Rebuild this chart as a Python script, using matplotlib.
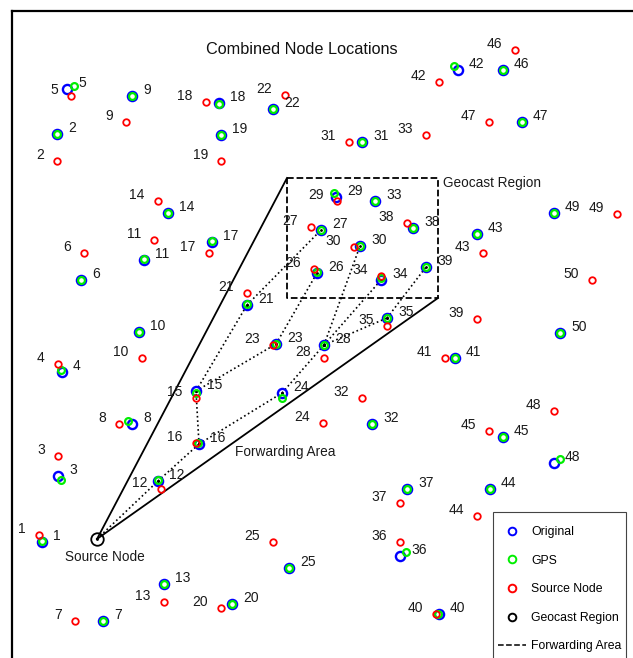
import matplotlib
matplotlib.use("Agg")
import matplotlib.pyplot as plt
from matplotlib.lines import Line2D
from matplotlib.patches import Rectangle

plt.rcParams['font.family'] = ['Liberation Sans', 'DejaVu Sans']

# node positions (field units, y grows downward on the plot)
node_ids = list(range(1, 51))
orig_x = [42, 57, 58, 62, 67, 81, 103, 132, 132, 139,
          144, 158, 164, 168, 196, 199, 212, 219, 221, 232,
          247, 273, 276, 282, 289, 317, 321, 324, 336, 360,
          362, 372, 375, 381, 387, 400, 407, 413, 426, 439,
          455, 458, 477, 490, 503, 503, 522, 554, 554, 560]
orig_y = [542, 134, 476, 372, 89, 280, 621, 424, 96, 332,
          260, 481, 584, 213, 391, 444, 242, 103, 135, 604,
          305, 109, 344, 393, 568, 273, 230, 345, 197, 246,
          142, 424, 201, 280, 318, 556, 489, 228, 267, 614,
          358, 70, 234, 489, 437, 70, 122, 463, 213, 333]
gps_x = [42, 57, 61, 61, 74, 81, 103, 128, 132, 139,
         144, 158, 164, 168, 196, 198, 212, 219, 221, 232,
         247, 273, 276, 282, 289, 317, 321, 324, 334, 360,
         362, 372, 375, 381, 387, 406, 407, 413, 426, 438,
         455, 454, 477, 490, 503, 503, 522, 560, 554, 560]
gps_y = [541, 134, 480, 370, 86, 280, 621, 421, 96, 332,
         259, 480, 584, 213, 393, 443, 241, 104, 135, 604,
         304, 109, 344, 398, 568, 272, 230, 345, 193, 246,
         142, 424, 201, 278, 318, 552, 489, 228, 267, 614,
         358, 66, 234, 489, 437, 70, 122, 459, 213, 333]
src_x = [39, 57, 58, 58, 71, 84, 75, 119, 126, 142,
         154, 161, 164, 158, 196, 196, 209, 206, 221, 221,
         247, 285, 273, 323, 273, 314, 311, 324, 337, 354,
         349, 362, 426, 381, 387, 400, 400, 407, 477, 436,
         445, 439, 483, 477, 489, 515, 489, 554, 617, 592]
src_y = [535, 161, 456, 364, 96, 253, 621, 424, 122, 358,
         240, 489, 602, 201, 398, 443, 253, 102, 161, 608,
         293, 95, 345, 423, 542, 269, 227, 358, 201, 247,
         142, 398, 135, 276, 326, 542, 503, 223, 319, 614,
         358, 82, 253, 516, 431, 50, 122, 411, 214, 280]

source_node = (97, 539)
geo_x = [287, 438]
geo_y = [178, 298]

# forwarding tree: (from, to), 0 is the source node
routes = [(0, 12), (12, 16), (16, 15), (16, 24), (15, 21), (15, 23),
          (21, 27), (23, 26), (24, 28), (28, 30), (28, 34), (28, 35),
          (35, 39)]

fig = plt.figure(figsize=(6.33, 6.58), dpi=100)
ax = fig.add_axes([12 / 633, -0.2, 1.2, 1 - 11 / 658 + 0.2])
ax.set_xlim(12, 12 + 1.2 * 633)
ax.set_ylim(11 + 647 + 0.2 * 658, 11)
ax.set_xticks([])
ax.set_yticks([])
for side in ['left', 'top']:
    ax.spines[side].set_linewidth(1.6)


def pos(n):
    if n == 0:
        return source_node
    return orig_x[n - 1], orig_y[n - 1]


# forwarding area cone and geocast region
sx, sy = source_node
ax.plot([sx, geo_x[0]], [sy, geo_y[0]], color='black', lw=1.3)
ax.plot([sx, geo_x[1]], [sy, geo_y[1]], color='black', lw=1.3)
ax.plot([geo_x[0], geo_x[1], geo_x[1], geo_x[0], geo_x[0]],
        [geo_y[0], geo_y[0], geo_y[1], geo_y[1], geo_y[0]],
        color='black', lw=1.3, ls='--')

for a, b in routes:
    (x1, y1), (x2, y2) = pos(a), pos(b)
    ax.plot([x1, x2], [y1, y2], color='black', lw=1.2, ls=':',
            marker='.', markersize=2)

ax.plot(orig_x, orig_y, 'o', color='none', mec='blue', ms=6.6, mew=1.7)
ax.plot(gps_x, gps_y, 'o', color='none', mec='#00ee00', ms=4.9, mew=1.6)
ax.plot(src_x, src_y, 'o', color='none', mec='red', ms=4.7, mew=1.3)
ax.plot([sx], [sy], 'o', color='none', mec='black', ms=9, mew=1.3)

for i, n in enumerate(node_ids):
    ax.annotate(str(n), (orig_x[i], orig_y[i]), xytext=(8, 4.5),
                textcoords='offset points', ha='left', va='center',
                fontsize=10, color='#1a1a1a')
    ax.annotate(str(n), (src_x[i], src_y[i]), xytext=(-9.5, 4.5),
                textcoords='offset points', ha='right', va='center',
                fontsize=10, color='#1a1a1a')

ax.text(sx + 8, sy + 18, 'Source Node', ha='center', va='center',
        fontsize=9.8, color='#1a1a1a')
ax.text(235, 452, 'Forwarding Area', ha='left', va='center',
        fontsize=9.8, color='#1a1a1a')
ax.text(443, 183, 'Geocast Region', ha='left', va='center',
        fontsize=9.8, color='#1a1a1a')
ax.text(302, 50, 'Combined Node Locations', ha='center', va='center',
        fontsize=11.7, color='#111111')

# legend
handles = [
    Line2D([], [], ls='none', marker='o', color='none', mec='blue', ms=5.5, mew=1.4),
    Line2D([], [], ls='none', marker='o', color='none', mec='#00ee00', ms=5.5, mew=1.4),
    Line2D([], [], ls='none', marker='o', color='none', mec='red', ms=5.5, mew=1.4),
    Line2D([], [], ls='none', marker='o', color='none', mec='black', ms=5.5, mew=1.4),
    Line2D([], [], color='black', ls='--', lw=1.1),
]
labels = ['Original', 'GPS', 'Source Node', 'Geocast Region', 'Forwarding Area']
fig.legend(handles, labels, loc='upper left',
           bbox_to_anchor=(498 / 633, 1 - 526 / 658), frameon=False,
           fontsize=8.8, borderpad=0, borderaxespad=0, handlelength=2.3,
           handletextpad=0.4, labelspacing=1.36)
fig.patches.append(Rectangle((493 / 633, -0.1), (626 - 493) / 633,
                             1 - 512 / 658 + 0.1, transform=fig.transFigure,
                             fill=False, edgecolor='#444444', lw=0.8))

fig.savefig('out.png', dpi=100)
